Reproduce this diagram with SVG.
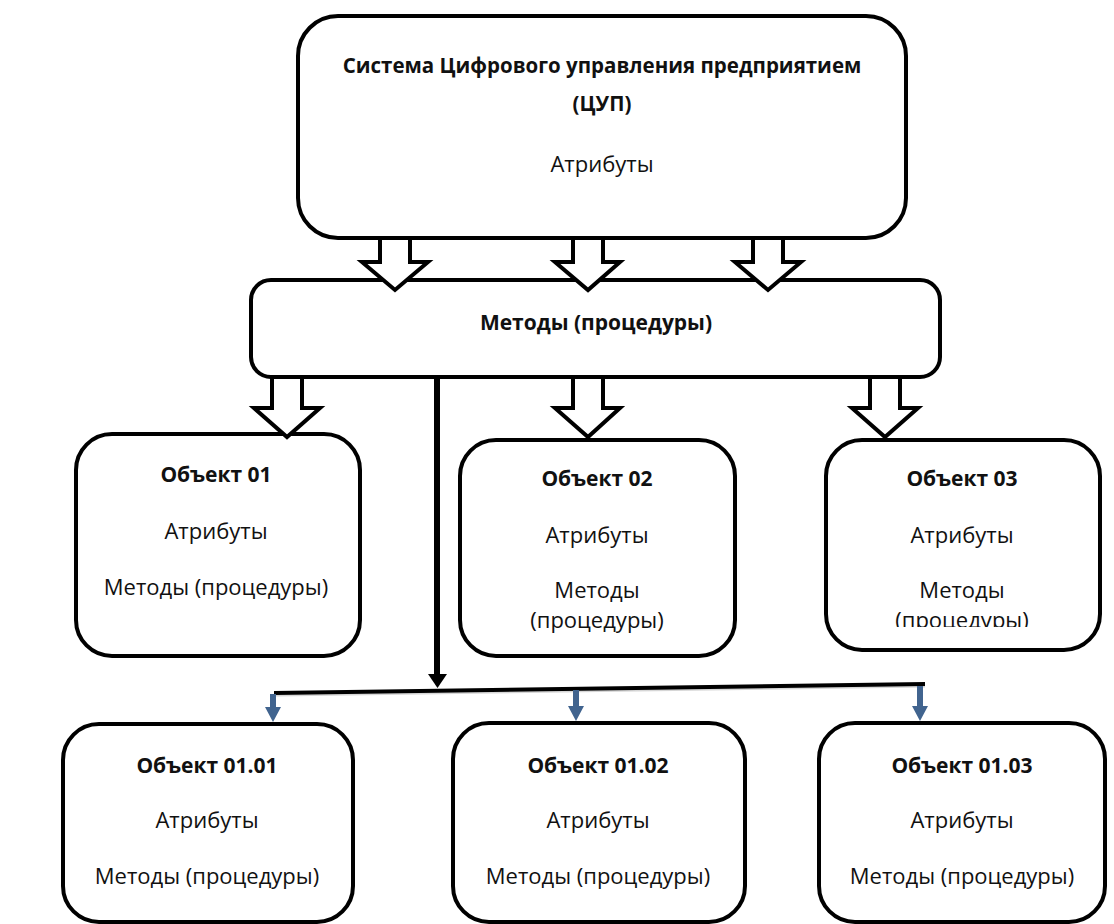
<svg xmlns="http://www.w3.org/2000/svg" width="1114" height="924" viewBox="0 0 1114 924">
<style>
.box{fill:#fff;stroke:#000;stroke-width:4}
.hollow{fill:#fff;stroke:#000;stroke-width:4;stroke-linejoin:miter}
.t{font-family:"Open Sans","Liberation Sans",sans-serif;font-size:22px;fill:#111;text-anchor:middle}
.b{font-weight:bold;font-size:21px}
.title{font-size:20.5px}
.blue{fill:#41648f}
</style>
<defs>
<clipPath id="clip03"><rect x="820" y="430" width="290" height="197"/></clipPath>
</defs>
<rect width="1114" height="924" fill="#fff"/>
<g id="node-cup">
<rect class="box" x="298" y="16" width="608" height="222" rx="40"/>
<text class="t b title" x="602" y="73">Система Цифрового управления предприятием</text>
<text class="t b title" x="602" y="111">(ЦУП)</text>
<text class="t" x="602" y="172">Атрибуты</text>
</g>
<g id="node-methods">
<rect class="box" x="251" y="280" width="689" height="97" rx="20"/>
<text class="t b" x="596" y="330">Методы (процедуры)</text>
</g>
<g id="node-obj01">
<rect class="box" x="76" y="434" width="284" height="222" rx="36"/>
<text class="t b" x="216" y="482">Объект 01</text>
<text class="t" x="216" y="539">Атрибуты</text>
<text class="t" x="216" y="595">Методы (процедуры)</text>
</g>
<g id="node-obj02">
<rect class="box" x="460" y="440" width="275" height="216" rx="36"/>
<text class="t b" x="597" y="486">Объект 02</text>
<text class="t" x="597" y="543">Атрибуты</text>
<text class="t" x="597" y="598">Методы</text>
<text class="t" x="597" y="628">(процедуры)</text>
</g>
<g id="node-obj03">
<rect class="box" x="826" y="440" width="274" height="210" rx="36"/>
<text class="t b" x="962" y="486">Объект 03</text>
<text class="t" x="962" y="543">Атрибуты</text>
<text class="t" x="962" y="598">Методы</text>
<text class="t" x="962" y="628" clip-path="url(#clip03)">(процедуры)</text>
</g>
<g id="node-obj0101">
<rect class="box" x="63" y="724" width="290" height="198" rx="36"/>
<text class="t b" x="207" y="773">Объект 01.01</text>
<text class="t" x="207" y="828">Атрибуты</text>
<text class="t" x="207" y="884">Методы (процедуры)</text>
</g>
<g id="node-obj0102">
<rect class="box" x="453" y="723" width="292" height="199" rx="36"/>
<text class="t b" x="598" y="773">Объект 01.02</text>
<text class="t" x="598" y="828">Атрибуты</text>
<text class="t" x="598" y="884">Методы (процедуры)</text>
</g>
<g id="node-obj0103">
<rect class="box" x="819" y="723" width="286" height="199" rx="36"/>
<text class="t b" x="962" y="773">Объект 01.03</text>
<text class="t" x="962" y="828">Атрибуты</text>
<text class="t" x="962" y="884">Методы (процедуры)</text>
</g>
<g id="connectors">
<polygon class="hollow" points="380,238 410,238 410,262 428,262 395,290 362,262 380,262"/>
<polygon class="hollow" points="573,238 603,238 603,262 620,262 588,290 555,262 573,262"/>
<polygon class="hollow" points="753,238 783,238 783,262 801,262 768,290 735,262 753,262"/>
<polygon class="hollow" points="272,377 302,377 302,408 320,408 287,437 254,408 272,408"/>
<polygon class="hollow" points="573,377 603,377 603,408 620,408 588,437 555,408 573,408"/>
<polygon class="hollow" points="870,377 900,377 900,408 918,408 885,437 852,408 870,408"/>
<line x1="437" y1="377" x2="437" y2="676" stroke="#000" stroke-width="6"/>
<polygon points="428,674 447,674 437.5,688" fill="#000"/>
<line x1="276" y1="695" x2="925" y2="686" stroke="#bbb" stroke-width="3" opacity="0.6"/>
<line x1="274" y1="693" x2="925" y2="684" stroke="#000" stroke-width="4"/>
<rect class="blue" x="270" y="694" width="6" height="14"/>
<polygon class="blue" points="265,707 281,707 273,722"/>
<rect class="blue" x="573" y="690" width="6" height="17"/>
<polygon class="blue" points="568,706 584,706 576,721"/>
<rect class="blue" x="917" y="686" width="6" height="21"/>
<polygon class="blue" points="912,706 928,706 920,721"/>
</g>
</svg>
